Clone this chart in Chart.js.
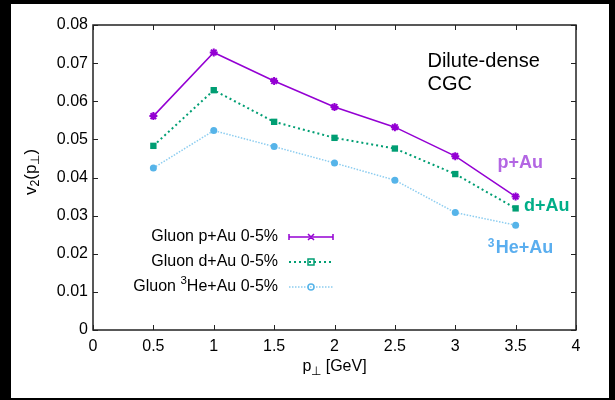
<!DOCTYPE html>
<html>
<head>
<meta charset="utf-8">
<script src="https://cdn.jsdelivr.net/npm/chart.js@4.4.0/dist/chart.umd.min.js"></script>
<style>
  html, body { margin: 0; padding: 0; background: #000; }
  #wrap { width: 615px; height: 400px; }
</style>
</head>
<body>
<div id="wrap"><canvas id="chart" width="615" height="400"></canvas></div>
<script>
const ptValues = [0.5, 1, 1.5, 2, 2.5, 3, 3.5];
const pAu = [0.0561, 0.0728, 0.0653, 0.0585, 0.0532, 0.0456, 0.0350];
const dAu = [0.0483, 0.0629, 0.0546, 0.0504, 0.0476, 0.0409, 0.0319];
const heAu = [0.0425, 0.0523, 0.0481, 0.0438, 0.0393, 0.0308, 0.0275];

const legendLabels = ['Gluon p+Au 0-5%', 'Gluon d+Au 0-5%', ['Gluon ', '3', 'He+Au 0-5%']];

const FONT = '"Liberation Sans", Arial, Helvetica, sans-serif';
const PURPLE = '#9400d3';
const GREEN = '#009e73';
const BLUE = '#56b4e9';

function toXY(ys) {
  return ptValues.map((x, i) => ({ x: x, y: ys[i] }));
}

// draws text pieces with sub/superscripts: [text, 'sub'|'sup'|null]
function richText(ctx, parts, x, y, size, align) {
  const widths = parts.map(p => {
    ctx.font = (p[1] ? size * 0.72 : size) + 'px ' + FONT;
    return ctx.measureText(p[0]).width;
  });
  const total = widths.reduce((a, b) => a + b, 0);
  let cx = align === 'right' ? x - total : align === 'center' ? x - total / 2 : x;
  parts.forEach((p, i) => {
    ctx.font = (p[1] ? size * 0.72 : size) + 'px ' + FONT;
    let dy = 0;
    if (p[1] === 'sub') dy = size * 0.28;
    if (p[1] === 'sup') dy = -size * 0.38;
    ctx.fillText(p[0], cx, y + dy);
    cx += widths[i];
  });
}

const framePlugin = {
  id: 'frame',
  beforeDraw(chart) {
    const ctx = chart.ctx;
    ctx.save();
    ctx.fillStyle = '#000';
    ctx.fillRect(0, 0, chart.width, chart.height);
    ctx.fillStyle = '#fff';
    ctx.fillRect(11, 4, 598, 394);
    ctx.restore();
  },
  afterDraw(chart) {
    const ctx = chart.ctx;
    const a = chart.chartArea;
    const xs = chart.scales.x, ys = chart.scales.y;
    ctx.save();
    ctx.strokeStyle = '#222';
    ctx.lineWidth = 1.5;
    ctx.strokeRect(a.left, a.top, a.right - a.left, a.bottom - a.top);
    ctx.lineWidth = 1;
    ctx.beginPath();
    xs.ticks.forEach(t => {
      const px = Math.round(xs.getPixelForValue(t.value)) + 0.5;
      ctx.moveTo(px, a.bottom); ctx.lineTo(px, a.bottom - 5);
      ctx.moveTo(px, a.top); ctx.lineTo(px, a.top + 5);
    });
    ys.ticks.forEach(t => {
      const py = Math.round(ys.getPixelForValue(t.value)) + 0.5;
      ctx.moveTo(a.left, py); ctx.lineTo(a.left + 5, py);
      ctx.moveTo(a.right, py); ctx.lineTo(a.right - 5, py);
    });
    ctx.stroke();

    // axis titles
    ctx.fillStyle = '#000';
    ctx.textBaseline = 'middle';
    richText(ctx, [['p', null], ['\u22a5', 'sub'], [' [GeV]', null]], (a.left + a.right) / 2, 367, 16, 'center');
    ctx.save();
    ctx.translate(31, 172);
    ctx.rotate(-Math.PI / 2);
    richText(ctx, [['v', null], ['2', 'sub'], ['(p', null], ['\u22a5', 'sub'], [')', null]], 0, 0, 17, 'center');
    ctx.restore();

    // annotation text
    ctx.textAlign = 'left';
    ctx.font = '20px ' + FONT;
    ctx.fillText('Dilute-dense', xs.getPixelForValue(2.77), ys.getPixelForValue(0.0703));
    ctx.fillText('CGC', xs.getPixelForValue(2.77), ys.getPixelForValue(0.0643));
    ctx.font = 'bold 18px ' + FONT;
    ctx.fillStyle = '#b366e3';
    ctx.fillText('p+Au', xs.getPixelForValue(3.35), ys.getPixelForValue(0.0438));
    ctx.fillStyle = '#00ae88';
    ctx.fillText('d+Au', xs.getPixelForValue(3.57), ys.getPixelForValue(0.0325));
    ctx.fillStyle = '#5aaeef';
    const hx = xs.getPixelForValue(3.27), hy = ys.getPixelForValue(0.0215);
    ctx.font = 'bold 12px ' + FONT;
    ctx.fillText('3', hx, hy - 4);
    ctx.font = 'bold 18px ' + FONT;
    ctx.fillText('He+Au', hx + 8, hy);

    // legend
    const rows = [237, 262, 287];
    const textRight = 278, lx0 = 289, lx1 = 333, mx = 311;
    chart.data.datasets.forEach((ds, i) => {
      const y = rows[i];
      ctx.fillStyle = '#000';
      ctx.textAlign = 'left';
      const lab = legendLabels[i];
      if (Array.isArray(lab)) {
        richText(ctx, [[lab[0], null], [lab[1], 'sup'], [lab[2], null]], textRight, y, 16, 'right');
      } else {
        richText(ctx, [[lab, null]], textRight, y, 16, 'right');
      }
      ctx.strokeStyle = ds.borderColor;
      ctx.lineWidth = ds.borderWidth;
      ctx.setLineDash(ds.borderDash || []);
      ctx.beginPath();
      ctx.moveTo(lx0, y); ctx.lineTo(lx1, y);
      ctx.stroke();
      ctx.setLineDash([]);
      ctx.lineWidth = 1.5;
      ctx.strokeStyle = ds.pointBackgroundColor;
      ctx.beginPath();
      if (i === 0) {
        ctx.moveTo(lx0, y - 3); ctx.lineTo(lx0, y + 3);
        ctx.moveTo(lx1, y - 3); ctx.lineTo(lx1, y + 3);
        ctx.moveTo(mx - 3, y - 3); ctx.lineTo(mx + 3, y + 3);
        ctx.moveTo(mx - 3, y + 3); ctx.lineTo(mx + 3, y - 3);
      } else if (i === 1) {
        ctx.rect(mx - 3, y - 3, 6, 6);
      } else {
        ctx.arc(mx, y, 3, 0, Math.PI * 2);
      }
      ctx.stroke();
    });
    ctx.restore();
  }
};

new Chart(document.getElementById('chart'), {
  type: 'line',
  data: {
    datasets: [
      {
        label: 'Gluon p+Au 0-5%',
        data: toXY(pAu),
        borderColor: PURPLE,
        borderWidth: 1.5,
        pointStyle: 'star',
        pointRadius: 4,
        pointBorderWidth: 2,
        pointBackgroundColor: PURPLE,
        pointBorderColor: PURPLE
      },
      {
        label: 'Gluon d+Au 0-5%',
        data: toXY(dAu),
        borderColor: GREEN,
        borderWidth: 2,
        borderDash: [2, 3],
        pointStyle: 'rect',
        pointRadius: 4.5,
        pointBorderWidth: 0,
        pointBackgroundColor: GREEN,
        pointBorderColor: GREEN
      },
      {
        label: 'Gluon 3He+Au 0-5%',
        data: toXY(heAu),
        borderColor: '#8ccdf0',
        borderWidth: 1.5,
        borderDash: [1.5, 1.5],
        pointStyle: 'circle',
        pointRadius: 3.5,
        pointBorderWidth: 0,
        pointBackgroundColor: BLUE,
        pointBorderColor: BLUE
      }
    ]
  },
  options: {
    responsive: false,
    animation: false,
    layout: { padding: { top: 25, right: 39, left: 0, bottom: 0 } },
    plugins: { legend: { display: false }, tooltip: { enabled: false } },
    scales: {
      x: {
        type: 'linear',
        min: 0, max: 4,
        grid: { display: false, drawTicks: false },
        border: { display: false },
        ticks: {
          stepSize: 0.5, color: '#000', padding: 7, font: { family: FONT, size: 16 },
          callback: v => String(Math.round(v * 10) / 10)
        },
        afterFit(scale) { scale.height = 70; }
      },
      y: {
        min: 0, max: 0.08,
        grid: { display: false, drawTicks: false },
        border: { display: false },
        ticks: {
          stepSize: 0.01, color: '#000', padding: 5, font: { family: FONT, size: 16 },
          callback: v => String(Math.round(v * 100) / 100)
        },
        afterFit(scale) { scale.width = 93; }
      }
    }
  },
  plugins: [framePlugin]
});
</script>
</body>
</html>
